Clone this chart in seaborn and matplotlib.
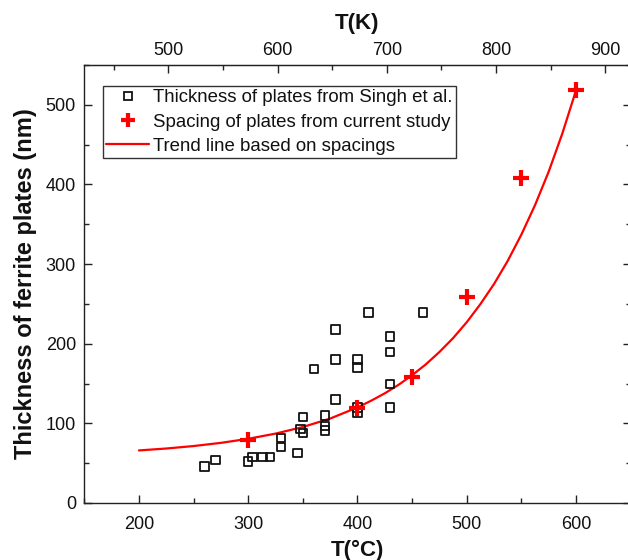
import numpy as np
import pandas as pd
import matplotlib
matplotlib.use("Agg")
import matplotlib.pyplot as plt
from matplotlib.lines import Line2D
from matplotlib.ticker import MultipleLocator
import seaborn as sns

# ---- data ----
singh_T = [260, 270, 300, 304, 313, 320, 330, 330, 345, 348, 350, 350,
           370, 370, 370, 360, 380, 380, 380, 400, 400, 400, 400, 410,
           430, 430, 430, 430, 460]
singh_thk = [46, 54, 52, 58, 58, 58, 70, 82, 63, 93, 88, 108,
             91, 97, 110, 168, 130, 180, 218, 113, 120, 170, 180, 239,
             120, 149, 190, 209, 239]

study_T = [300, 400, 450, 500, 550, 600]
study_spacing = [79, 119, 158, 259, 408, 518]

trend_T = [200, 225, 250, 275, 300, 325, 350, 375, 400, 412.5, 425, 437.5,
           450, 462.5, 475, 487.5, 500, 512.5, 525, 537.5, 550, 562.5,
           575, 587.5, 600]
trend_val = [66, 68.4, 71.5, 75.5, 80.6, 87.1, 95.4, 106, 120, 128.4,
             137.7, 148.3, 160.4, 174, 189.6, 207, 227, 249.7, 275, 304,
             337, 374, 416, 464, 518]

legend_labels = ["Thickness of plates from Singh et al.",
                 "Spacing of plates from current study",
                 "Trend line based on spacings"]

sns.set_style("ticks")
plt.rcParams['font.family'] = ['Liberation Sans', 'DejaVu Sans']

df_s = pd.DataFrame({"T": singh_T, "v": singh_thk})
df_c = pd.DataFrame({"T": study_T, "v": study_spacing})
df_t = pd.DataFrame({"T": trend_T, "v": trend_val})

fig = plt.figure(figsize=(6.28, 5.60), dpi=100)
ax = fig.add_axes([0.1342, 0.1018, 1.0042 - 0.1342, 0.884 - 0.1018])

sns.lineplot(data=df_t, x="T", y="v", ax=ax, color="#ff0000", lw=1.6,
             zorder=2)
sns.scatterplot(data=df_s, x="T", y="v", ax=ax, marker="s", s=36,
                facecolor="none", edgecolor="#111111", linewidth=1.3,
                zorder=3)
sns.scatterplot(data=df_c, x="T", y="v", ax=ax, marker="+", s=135,
                color="#ff0000", linewidth=3.0, zorder=4)

ax.set_xlim(150, 650)
ax.set_ylim(0, 550)
ax.set_xticks([200, 300, 400, 500, 600])
ax.xaxis.set_minor_locator(MultipleLocator(50))
ax.yaxis.set_major_locator(MultipleLocator(100))
ax.yaxis.set_minor_locator(MultipleLocator(50))

ax.tick_params(axis="both", which="both", direction="in", labelsize=13,
               color="#222222", labelcolor="#111111", width=1.0)
ax.tick_params(axis="x", which="both", pad=9.5)
ax.tick_params(axis="y", which="both", pad=6, right=True)
ax.tick_params(which="major", length=6)
ax.tick_params(which="minor", length=3.5)
for sp in ax.spines.values():
    sp.set_visible(True)
    sp.set_linewidth(1.0)
    sp.set_color("#222222")

ax.set_xlabel("T(°C)", fontsize=16, fontweight="bold", labelpad=5,
              color="#111111")
ax.set_ylabel("Thickness of ferrite plates (nm)", fontsize=17,
              fontweight="bold", labelpad=6, color="#111111")

sec = ax.secondary_xaxis("top", functions=(lambda c: c + 273.15,
                                           lambda k: k - 273.15))
sec.set_xticks([500, 600, 700, 800, 900])
sec.xaxis.set_minor_locator(MultipleLocator(50))
sec.tick_params(axis="x", which="both", direction="in", labelsize=13,
                color="#222222", labelcolor="#111111", width=1.0, pad=4)
sec.tick_params(which="major", length=6)
sec.tick_params(which="minor", length=3.5)
sec.set_xlabel("T(K)", fontsize=16, fontweight="bold", labelpad=10,
               color="#111111")

handles = [
    Line2D([], [], linestyle="none", marker="s", ms=5.5, mfc="none",
           mec="#111111", mew=1.3),
    Line2D([], [], linestyle="none", marker="+", ms=10, mew=3.0,
           color="#ff0000"),
    Line2D([], [], color="#ff0000", lw=1.6),
]
leg = ax.legend(handles, legend_labels, loc="upper left",
                bbox_to_anchor=(0.0337, 0.9527), borderaxespad=0,
                fontsize=13.4, frameon=True, fancybox=False, framealpha=1,
                edgecolor="#333333", handlelength=2.3, handletextpad=0.22,
                labelspacing=0.38, borderpad=0.2)
leg.get_frame().set_linewidth(1.0)
for t in leg.get_texts():
    t.set_color("#111111")

fig.savefig("out.png", dpi=100)
